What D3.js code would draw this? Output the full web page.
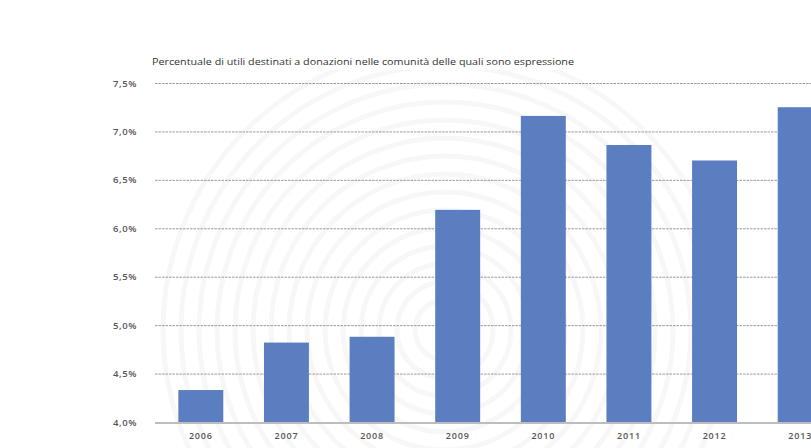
<!DOCTYPE html>
<html><head><meta charset="utf-8">
<script src="https://cdn.jsdelivr.net/npm/d3@7/dist/d3.min.js"></script>
<style>html,body{margin:0;padding:0;background:#fff;overflow:hidden}</style>
</head><body>
<svg id="c" width="811" height="448"></svg>
<script>
const years = ["2006","2007","2008","2009","2010","2011","2012","2013"];
const values = [4.33, 4.82, 4.88, 6.19, 7.16, 6.86, 6.70, 7.25];
const yTicks = [4.0, 4.5, 5.0, 5.5, 6.0, 6.5, 7.0, 7.5];
const title = "Percentuale di utili destinati a donazioni nelle comunità delle quali sono espressione";

const svg = d3.select("#c");
const x = d3.scaleBand().domain(years).range([158, 843]).paddingInner(0.475).paddingOuter(0.2375);
const y = d3.scaleLinear().domain([4.0, 7.5]).range([422, 83]);

// faint watermark rings
const wm = svg.append("g").attr("fill","none").attr("stroke","#f7f7f7").attr("stroke-width",5);
d3.range(30, 300, 18).forEach(r => {
  wm.append("circle").attr("cx", 445).attr("cy", 330).attr("r", r);
});
svg.append("rect").attr("x",0).attr("y",0).attr("width",811).attr("height",70).attr("fill","#fff");
svg.append("rect").attr("x",0).attr("y",0).attr("width",150).attr("height",448).attr("fill","#fff").attr("opacity",0.7);

// title
svg.append("text").attr("x", 152).attr("y", 65).attr("font-family","Open Sans, sans-serif")
  .attr("font-size", 9.5).attr("fill", "#333").attr("textLength", 422).attr("lengthAdjust","spacingAndGlyphs")
  .text(title);

// y axis gridlines
const fmt = d => d.toFixed(1).replace(".", ",") + "%";
const yAxis = d3.axisLeft(y).tickValues(yTicks).tickSize(-(811-155)).tickFormat(fmt).tickPadding(18);
const gy = svg.append("g").attr("transform","translate(155,0)").call(yAxis);
gy.select(".domain").remove();
gy.selectAll(".tick line").attr("stroke","#9a9a9a").attr("stroke-dasharray","2.5,1").attr("stroke-width",1);
gy.selectAll(".tick").filter(d => d === 4.0).select("line").remove();
gy.selectAll(".tick text").attr("font-family","Open Sans, sans-serif").attr("font-size",9.5)
  .attr("font-weight",600).attr("letter-spacing",0.6).attr("fill","#555");

// bars
svg.append("g").selectAll("rect").data(values).join("rect")
  .attr("x", (d,i) => x(years[i])).attr("width", x.bandwidth())
  .attr("y", d => y(d)).attr("height", d => y(4.0) - y(d))
  .attr("fill", "#5b7ec0");

// baseline axis
const xAxis = d3.axisBottom(x).tickSize(0).tickPadding(11);
const gx = svg.append("g").attr("transform", `translate(0,${y(4.0)})`).call(xAxis);
gx.select(".domain").remove();
svg.append("line").attr("x1",155).attr("x2",811).attr("y1",y(4.0)+1).attr("y2",y(4.0)+1)
  .attr("stroke","#bdbdbd").attr("stroke-width",2);
gx.selectAll(".tick text").attr("font-family","Open Sans, sans-serif").attr("font-size",9)
  .attr("font-weight",600).attr("letter-spacing",0.8).attr("fill","#555");
</script>
</body></html>
